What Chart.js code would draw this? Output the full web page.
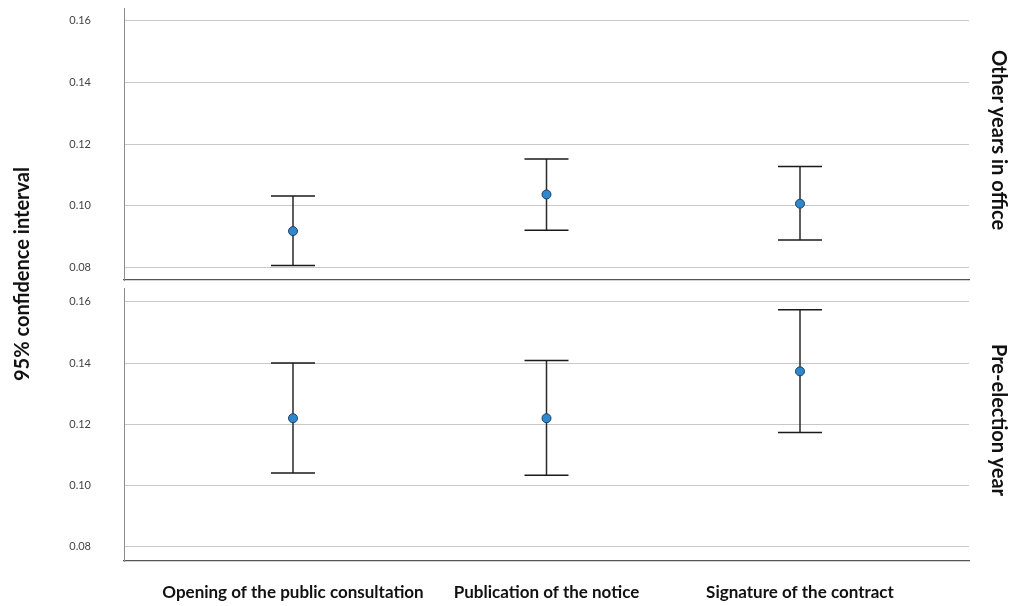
<!DOCTYPE html>
<html>
<head>
<meta charset="utf-8">
<script src="https://cdn.jsdelivr.net/npm/chart.js@4/dist/chart.umd.min.js"></script>
<style>
  body { margin: 0; background: #fff; font-family: Lato, sans-serif; }
  #wrap { position: relative; width: 1024px; height: 606px; overflow: hidden; }
  canvas { position: absolute; left: 0; }
  #top-panel { top: 0; }
  #bottom-panel { top: 283px; }
  .side { position: absolute; font-weight: bold; font-size: 20px; color: #111; white-space: nowrap; }
</style>
</head>
<body>
<div id="wrap">
  <canvas id="top-panel" width="1024" height="290"></canvas>
  <canvas id="bottom-panel" width="1024" height="323"></canvas>
  <div class="side" id="y-title">95% confidence interval</div>
  <div class="side" id="label-top"></div>
  <div class="side" id="label-bottom"></div>
</div>
<script>
// Datos
const categories = ['Opening of the public consultation', 'Publication of the notice', 'Signature of the contract'];
const panelNames = ['Other years in office', 'Pre-election year'];
const yTicks = [0.08, 0.10, 0.12, 0.14, 0.16];

const otherMean = [0.0917, 0.1036, 0.1006];
const otherLower = [0.0805, 0.0920, 0.0888];
const otherUpper = [0.1031, 0.1151, 0.1127];

const preMean = [0.1220, 0.1220, 0.1373];
const preLower = [0.1041, 0.1034, 0.1173];
const preUpper = [0.1400, 0.1408, 0.1574];

// Crear un panel con sus barras de error
function makePanel(canvasId, mean, lower, upper, opts) {
  const whiskers = [];
  const caps = [];
  mean.forEach((m, i) => {
    whiskers.push({ x: i, y: lower[i] }, { x: i, y: upper[i] }, { x: i, y: null });
    caps.push({ x: i, y: lower[i] }, { x: i, y: upper[i] });
  });

  return new Chart(document.getElementById(canvasId), {
    type: 'scatter',
    data: {
      datasets: [
        {
          data: mean.map((m, i) => ({ x: i, y: m })),
          pointRadius: 4.5,
          backgroundColor: '#2f88cf',
          borderColor: '#1f3f5f',
          borderWidth: 1
        },
        {
          data: caps,
          pointStyle: 'line',
          pointRadius: 22,
          borderColor: '#1a1a1a',
          borderWidth: 1.5
        },
        {
          data: whiskers,
          showLine: true,
          spanGaps: false,
          pointRadius: 0,
          borderColor: '#2a2a2a',
          borderWidth: 1.5
        }
      ]
    },
    options: {
      responsive: false,
      animation: false,
      events: [],
      layout: {
        autoPadding: false,
        padding: { top: opts.padTop, right: 55, left: 0, bottom: 0 }
      },
      plugins: { legend: { display: false }, tooltip: { enabled: false } },
      scales: {
        x: {
          type: 'linear',
          min: -2 / 3,
          max: 8 / 3,
          afterBuildTicks: scale => { scale.ticks = categories.map((c, i) => ({ value: i })); },
          afterFit: scale => {
            scale.height = opts.xHeight;
            scale.paddingLeft = 0;
            scale.paddingRight = 0;
          },
          grid: { display: false, drawTicks: false },
          border: { display: true, color: '#555', width: 1.2 },
          ticks: {
            display: opts.showLabels,
            autoSkip: false,
            maxRotation: 0,
            padding: 21,
            color: '#111',
            font: { family: 'Lato', size: 17, weight: 'bold' },
            callback: value => categories[value]
          }
        },
        y: {
          min: opts.yMin,
          max: opts.yMax,
          afterBuildTicks: scale => { scale.ticks = yTicks.map(v => ({ value: v })); },
          afterFit: scale => {
            scale.width = 124;
            // sin margen vertical extra por el padding de las etiquetas
            scale.paddingTop = 0;
            scale.paddingBottom = 0;
          },
          grid: { color: '#c8c8c8', lineWidth: 1, drawTicks: false },
          border: { display: true, color: '#8c8c8c', width: 1 },
          ticks: {
            padding: 33,
            color: '#444',
            font: { family: 'Lato', size: 11 },
            callback: value => value.toFixed(2)
          }
        }
      }
    }
  });
}

makePanel('top-panel', otherMean, otherLower, otherUpper,
  { padTop: 8, xHeight: 10, showLabels: false, yMin: 0.0758, yMax: 0.1642 });
makePanel('bottom-panel', preMean, preLower, preUpper,
  { padTop: 5, xHeight: 45, showLabels: true, yMin: 0.0754, yMax: 0.1645 });

// Etiquetas laterales
function placeRotated(id, text, cx, cy, angle) {
  const el = document.getElementById(id);
  if (text) el.textContent = text;
  const w = el.offsetWidth, h = el.offsetHeight;
  el.style.left = (cx - w / 2) + 'px';
  el.style.top = (cy - h / 2) + 'px';
  el.style.transform = `rotate(${angle}deg)`;
}
placeRotated('y-title', null, 21, 274, -90);
placeRotated('label-top', panelNames[0], 1000, 140, 90);
placeRotated('label-bottom', panelNames[1], 1000, 420, 90);
</script>
</body>
</html>
